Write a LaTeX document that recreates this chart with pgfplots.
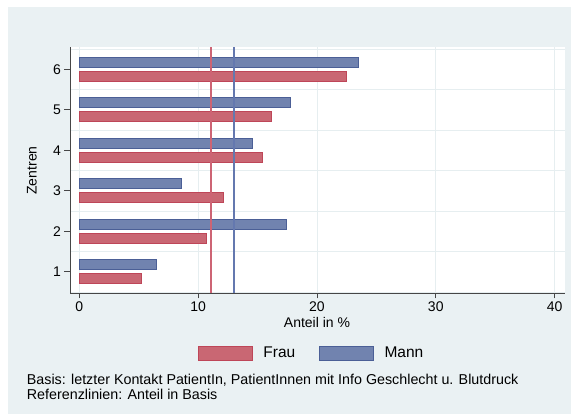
\documentclass[border=0pt]{standalone}
\usepackage{pgfplots}
\pgfplotsset{compat=1.18}
\usepackage{fontspec}
\setmainfont{Liberation Sans}
\definecolor{bgc}{RGB}{234,241,243}
\definecolor{gridc}{RGB}{230,238,240}
\definecolor{axc}{RGB}{70,70,70}
\definecolor{fraufill}{RGB}{201,103,115}
\definecolor{fraudraw}{RGB}{190,70,88}
\definecolor{mannfill}{RGB}{113,131,175}
\definecolor{manndraw}{RGB}{75,95,150}
\definecolor{frauline}{RGB}{205,100,116}
\definecolor{mannline}{RGB}{100,120,175}
\pgfplotsset{boxlegend/.style={legend image code/.code={\draw[##1] (0pt,-7.3pt) rectangle (54pt,7.3pt);}}}
\begin{document}
\begin{tikzpicture}[x=1pt,y=1pt]
\fill[white] (0,0) rectangle (571,414);
\fill[bgc] (8.3,0) rectangle (571,407);
\begin{axis}[
 at={(70pt,121pt)}, anchor=south west,
 scale only axis, width=495pt, height=246pt,
 xmin=-0.79, xmax=40.88, ymin=0.474, ymax=6.551,
 axis background/.style={fill=white},
 axis x line*=bottom, axis y line*=left,
 axis line style={axc, line width=0.9pt, -},
 xtick={0,10,20,30,40}, ytick={1,2,3,4,5,6},
 tick align=outside, major tick length=5.5pt,
 tick style={axc, line width=0.8pt},
 xmajorgrids, grid style={gridc, line width=0.8pt},
 minor ytick={0.5,1.5,2.5,3.5,4.5,5.5,6.5}, yminorgrids, minor tick length=0pt,
 minor grid style={gridc, line width=0.8pt},
 /pgf/number format/assume math mode=true,
 ticklabel style={font=\fontsize{14}{16}\selectfont},
 xlabel={Anteil in \%}, ylabel={Zentren},
 xlabel style={at={(axis description cs:0.499,-0.119)}, anchor=center, font=\fontsize{14}{16}\selectfont},
 ylabel style={at={(axis description cs:-0.0768,0.498)}, anchor=center, font=\fontsize{14}{16}\selectfont},
 legend columns=2,
 legend style={at={(axis description cs:0.258,-0.2451)}, anchor=west, draw=none, fill=none, inner sep=0pt,
   font=\fontsize{15.5}{18}\selectfont, cells={anchor=west},
   /tikz/every odd column/.append style={column sep=8.7pt},
   /tikz/every even column/.append style={column sep=21.8pt}},
]
\addplot[xbar, bar width=10pt, bar shift=-7pt, fill=fraufill, draw=fraudraw, line width=0.8pt, boxlegend]
 coordinates {(5.2,1) (10.7,2) (12.1,3) (15.4,4) (16.2,5) (22.5,6)};
\addlegendentry{Frau}
\addplot[xbar, bar width=10pt, bar shift=7pt, fill=mannfill, draw=manndraw, line width=0.8pt, boxlegend]
 coordinates {(6.5,1) (17.4,2) (8.6,3) (14.6,4) (17.8,5) (23.5,6)};
\addlegendentry{Mann}
\addplot[ycomb, draw=frauline, line width=1.6pt, mark=none, forget plot] coordinates {(11.1,6.551)};
\addplot[ycomb, draw=mannline, line width=1.6pt, mark=none, forget plot] coordinates {(13.0,6.551)};
\end{axis}
\node[anchor=base west, inner sep=0pt, font=\fontsize{14.3}{16}\selectfont] at (26.7,29) {Basis: letzter Kontakt PatientIn, PatientInnen mit Info Geschlecht u. Blutdruck};
\node[anchor=base west, inner sep=0pt, font=\fontsize{14.3}{16}\selectfont] at (26.7,14.7) {Referenzlinien: Anteil in Basis};
\end{tikzpicture}
\end{document}
